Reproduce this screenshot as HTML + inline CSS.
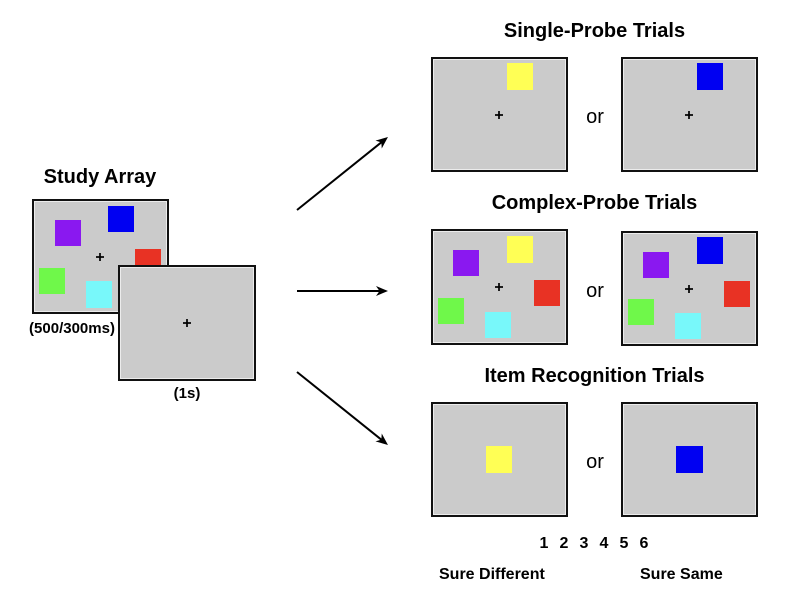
<!DOCTYPE html>
<html>
<head>
<meta charset="utf-8">
<style>
html,body{margin:0;padding:0;background:#fff;}
svg{display:block;}
text{font-family:"Liberation Sans",Arial,sans-serif;fill:#000;}
.t{font-weight:bold;font-size:20px;text-anchor:middle;}
.s{font-weight:bold;font-size:15px;text-anchor:middle;}
.or{font-size:20px;text-anchor:middle;}
.n{font-weight:bold;font-size:16px;text-anchor:middle;}
.l{font-weight:bold;font-size:16px;}
</style>
</head>
<body>
<svg width="800" height="602" viewBox="0 0 800 602" xmlns="http://www.w3.org/2000/svg">
<defs>
<marker id="ah" markerUnits="userSpaceOnUse" markerWidth="14" markerHeight="12" refX="6" refY="5" orient="auto">
<path d="M0,0 L12,5 L0,10 L3.5,5 z" fill="#000"/>
</marker>
<g id="plus"><line x1="-4" y1="0" x2="4" y2="0" stroke="#000" stroke-width="1.7"/><line x1="0" y1="-4" x2="0" y2="4" stroke="#000" stroke-width="1.7"/></g>
</defs>

<!-- Study array -->
<text class="t" x="100" y="183">Study Array</text>
<rect x="33" y="200" width="135" height="113" fill="#cbcbcb" stroke="#111" stroke-width="2"/>
<rect x="34.5" y="201.5" width="132" height="110" fill="none" stroke="#ececec" stroke-width="1"/>
<rect x="55" y="220" width="26" height="26" fill="#8a18f0"/>
<rect x="108" y="206" width="26" height="26" fill="#0000f2"/>
<rect x="135" y="249" width="26" height="26" fill="#e83224"/>
<rect x="39" y="268" width="26" height="26" fill="#6ff84a"/>
<rect x="86" y="281" width="26" height="27" fill="#78f8fa"/>
<use href="#plus" x="100" y="257"/>
<text class="s" x="72" y="333">(500/300ms)</text>

<rect x="119" y="266" width="136" height="114" fill="#cbcbcb" stroke="#111" stroke-width="2"/>
<rect x="120.5" y="267.5" width="133" height="111" fill="none" stroke="#ececec" stroke-width="1"/>
<use href="#plus" x="187" y="323"/>
<text class="s" x="187" y="398">(1s)</text>

<!-- Arrows -->
<line x1="297" y1="210" x2="383.3" y2="140.8" stroke="#000" stroke-width="2" marker-end="url(#ah)"/>
<line x1="297" y1="291" x2="382" y2="291" stroke="#000" stroke-width="2" marker-end="url(#ah)"/>
<line x1="297" y1="372" x2="383.3" y2="441.2" stroke="#000" stroke-width="2" marker-end="url(#ah)"/>

<!-- Single-Probe -->
<text class="t" x="594.5" y="37">Single-Probe Trials</text>
<rect x="432" y="58" width="135" height="113" fill="#cbcbcb" stroke="#111" stroke-width="2"/>
<rect x="433.5" y="59.5" width="132" height="110" fill="none" stroke="#ececec" stroke-width="1"/>
<rect x="507" y="63" width="26" height="27" fill="#ffff55"/>
<use href="#plus" x="499" y="115"/>
<text class="or" x="595" y="123">or</text>
<rect x="622" y="58" width="135" height="113" fill="#cbcbcb" stroke="#111" stroke-width="2"/>
<rect x="623.5" y="59.5" width="132" height="110" fill="none" stroke="#ececec" stroke-width="1"/>
<rect x="697" y="63" width="26" height="27" fill="#0000f2"/>
<use href="#plus" x="689" y="115"/>

<!-- Complex-Probe -->
<text class="t" x="594.5" y="209">Complex-Probe Trials</text>
<rect x="432" y="230" width="135" height="114" fill="#cbcbcb" stroke="#111" stroke-width="2"/>
<rect x="433.5" y="231.5" width="132" height="111" fill="none" stroke="#ececec" stroke-width="1"/>
<rect x="453" y="250" width="26" height="26" fill="#8a18f0"/>
<rect x="507" y="236" width="26" height="27" fill="#ffff55"/>
<rect x="534" y="280" width="26" height="26" fill="#e83224"/>
<rect x="438" y="298" width="26" height="26" fill="#6ff84a"/>
<rect x="485" y="312" width="26" height="26" fill="#78f8fa"/>
<use href="#plus" x="499" y="287"/>
<text class="or" x="595" y="297">or</text>
<rect x="622" y="232" width="135" height="113" fill="#cbcbcb" stroke="#111" stroke-width="2"/>
<rect x="623.5" y="233.5" width="132" height="110" fill="none" stroke="#ececec" stroke-width="1"/>
<rect x="643" y="252" width="26" height="26" fill="#8a18f0"/>
<rect x="697" y="237" width="26" height="27" fill="#0000f2"/>
<rect x="724" y="281" width="26" height="26" fill="#e83224"/>
<rect x="628" y="299" width="26" height="26" fill="#6ff84a"/>
<rect x="675" y="313" width="26" height="26" fill="#78f8fa"/>
<use href="#plus" x="689" y="289"/>

<!-- Item Recognition -->
<text class="t" x="594.5" y="382">Item Recognition Trials</text>
<rect x="432" y="403" width="135" height="113" fill="#cbcbcb" stroke="#111" stroke-width="2"/>
<rect x="433.5" y="404.5" width="132" height="110" fill="none" stroke="#ececec" stroke-width="1"/>
<rect x="486" y="446" width="26" height="27" fill="#ffff55"/>
<text class="or" x="595" y="468">or</text>
<rect x="622" y="403" width="135" height="113" fill="#cbcbcb" stroke="#111" stroke-width="2"/>
<rect x="623.5" y="404.5" width="132" height="110" fill="none" stroke="#ececec" stroke-width="1"/>
<rect x="676" y="446" width="27" height="27" fill="#0000f2"/>

<text class="n" x="544" y="548">1</text>
<text class="n" x="564" y="548">2</text>
<text class="n" x="584" y="548">3</text>
<text class="n" x="604" y="548">4</text>
<text class="n" x="624" y="548">5</text>
<text class="n" x="644" y="548">6</text>
<text class="l" x="439" y="579">Sure Different</text>
<text class="l" x="640" y="579">Sure Same</text>
</svg>
</body>
</html>
